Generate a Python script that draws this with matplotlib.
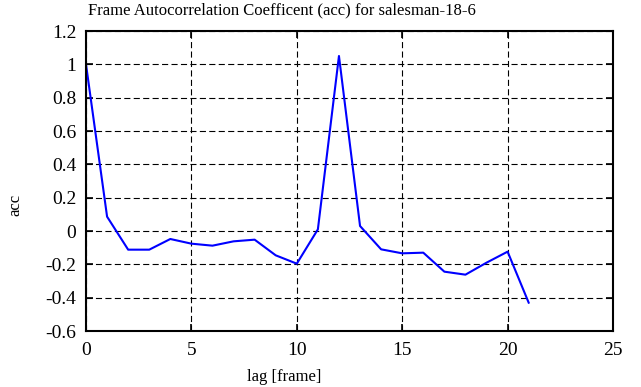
import matplotlib
matplotlib.use("Agg")
import matplotlib.pyplot as plt

lags = list(range(22))
acc = [1.0, 0.086, -0.112, -0.112, -0.048, -0.076, -0.088, -0.062, -0.052, -0.146,
       -0.196, 0.01, 1.05, 0.03, -0.11, -0.134, -0.13, -0.244, -0.262, -0.19,
       -0.124, -0.43]
xticks = [0, 5, 10, 15, 20, 25]
yticks = [-0.6, -0.4, -0.2, 0, 0.2, 0.4, 0.6, 0.8, 1, 1.2]
ytick_labels = ["-0.6", "-0.4", "-0.2", "0", "0.2", "0.4", "0.6", "0.8", "1", "1.2"]

plt.rcParams['font.family'] = ['Liberation Serif', 'DejaVu Serif']
fs_tick = 14
fs_text = 12

fig = plt.figure(figsize=(6.41, 3.87), dpi=100)
ax = fig.add_axes([86/641, 56/387, (613-86)/641, (331-31)/387])
ax.plot(lags, acc, color='#0000ff', lw=1.5)
ax.set_xlim(0, 25)
ax.set_ylim(-0.6, 1.2)
ax.set_xticks(xticks)
ax.set_xticklabels([str(t) for t in xticks], fontsize=fs_tick)
ax.set_yticks(yticks)
ax.set_yticklabels(ytick_labels, fontsize=fs_tick)
ax.tick_params(axis='x', direction='in', length=5, width=1.2, top=True, pad=8)
ax.tick_params(axis='y', direction='in', length=5, width=1.2, right=True, pad=7)
ax.grid(True, color='black', lw=0.8, linestyle=(0, (5.5, 3)))
for s in ax.spines.values():
    s.set_linewidth(1.5)
fig.text(282/641, 1 - 10/387, "Frame Autocorrelation Coefficent (acc) for salesman-18-6",
         ha='center', va='center', fontsize=fs_text)
fig.text(284/641, 1 - 377/387, "lag [frame]", ha='center', va='center', fontsize=fs_text)
fig.text(15/641, 1 - 205/387, "acc", ha='center', va='center', rotation=90, fontsize=fs_text)
fig.savefig("out.png", dpi=100)
